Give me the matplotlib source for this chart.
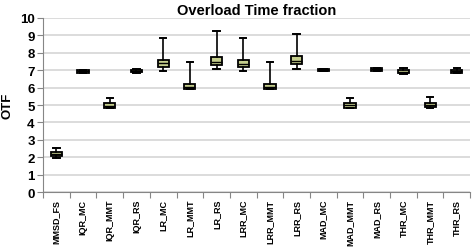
import matplotlib
matplotlib.use("Agg")
import matplotlib.pyplot as plt
from matplotlib import rcParams

rcParams["font.family"] = "Liberation Sans"

INK = "#000000"; GRID = "#d9d9d9"; AXIS = "#868686"; FILL = "#c4cd8c"

categories = ["MMSD_FS", "IQR_MC", "IQR_MMT", "IQR_RS", "LR_MC", "LR_MMT", "LR_RS",
              "LRR_MC", "LRR_MMT", "LRR_RS", "MAD_MC", "MAD_MMT", "MAD_RS",
              "THR_MC", "THR_MMT", "THR_RS"]
whislo = [1.94, 6.85, 4.83, 6.86, 6.97, 5.90, 7.07, 6.97, 5.90, 7.09, 6.97, 4.80, 6.96, 6.80, 4.85, 6.84]
q1     = [2.05, 6.86, 4.84, 6.88, 7.20, 5.92, 7.32, 7.18, 5.92, 7.36, 6.97, 4.82, 6.98, 6.82, 4.86, 6.85]
med    = [2.18, 6.93, 4.97, 6.95, 7.40, 6.06, 7.45, 7.38, 6.06, 7.50, 7.00, 5.00, 7.04, 6.90, 5.00, 6.94]
q3     = [2.32, 6.99, 5.10, 7.00, 7.59, 6.23, 7.78, 7.60, 6.23, 7.83, 7.04, 5.14, 7.10, 7.00, 5.11, 7.02]
whishi = [2.51, 7.02, 5.40, 7.08, 8.83, 7.45, 9.24, 8.83, 7.45, 9.08, 7.05, 5.38, 7.12, 7.14, 5.46, 7.14]

stats = [dict(label=c, whislo=a, q1=b, med=m, q3=d, whishi=e, fliers=[])
         for c, a, b, m, d, e in zip(categories, whislo, q1, med, q3, whishi)]

fig = plt.figure(figsize=(4.73, 2.53), dpi=100)
ax = fig.add_axes([0.091, 0.237, 0.903, 0.688])

pos = list(range(1, len(categories) + 1))
ax.bxp(stats, positions=pos, widths=0.42, capwidths=0.24, patch_artist=True,
       showfliers=False,
       boxprops=dict(facecolor=FILL, edgecolor=INK, linewidth=1.3),
       medianprops=dict(color=INK, linewidth=1.0),
       whiskerprops=dict(color=INK, linewidth=1.2),
       capprops=dict(color=INK, linewidth=1.4), zorder=3)

ax.set_xlim(0.5, len(categories) + 0.5)
ax.set_ylim(0, 10)
ax.set_yticks(range(0, 11))
ax.grid(axis="y", color=GRID, lw=1.3, zorder=0)
ax.set_axisbelow(True)

ax.set_xticks(pos)
ax.set_xticklabels(categories, rotation=90, fontsize=6.5, fontweight="bold")
ax.set_xticks([p + 0.5 for p in range(0, len(categories) + 1)], minor=True)
ax.tick_params(axis="x", which="major", length=0, pad=5)
ax.tick_params(axis="x", which="minor", length=4, color=AXIS, width=0.8)
ax.tick_params(axis="y", length=4, color=AXIS, width=0.8, labelsize=9.5, pad=2)
for t in ax.get_yticklabels():
    t.set_fontweight("bold")

for s in ["top", "right"]:
    ax.spines[s].set_visible(False)
for s in ["left", "bottom"]:
    ax.spines[s].set_color(AXIS); ax.spines[s].set_linewidth(0.8)

ax.set_title("Overload Time fraction", fontsize=10.5, fontweight="bold", pad=3)
ax.set_ylabel("OTF", fontsize=9.5, fontweight="bold", labelpad=5)

plt.savefig("out.png", dpi=100)
